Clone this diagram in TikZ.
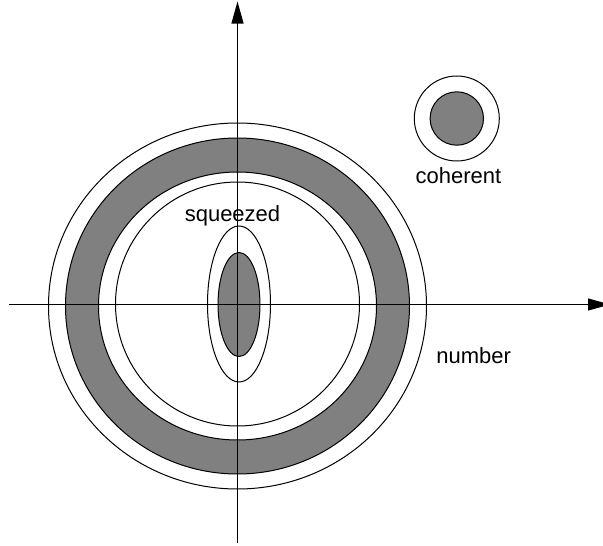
\documentclass[tikz,border=0pt]{standalone}
\usepackage{fontspec}
\setmainfont{Liberation Sans}
\usetikzlibrary{arrows.meta}

\tikzset{
  ring/.style={draw=black, line width=1pt},
  shade/.style={fill=gray, draw=black, line width=1pt, even odd rule},
  axis/.style={line width=1.1pt, -{Triangle[length=22pt, width=12pt]}},
  lbl/.style={font=\fontsize{22}{26}\selectfont, anchor=base, inner sep=0pt}
}

\begin{document}
\begin{tikzpicture}[x=1pt, y=-1pt]
    \useasboundingbox (0,0) rectangle (603,546);
    % number state: thermal ring
    \draw[ring] (237.5,306) ellipse [x radius=189pt, y radius=183pt];
    \path[shade] (237.5,306) ellipse [x radius=172pt, y radius=168pt]
                 (237.5,306) ellipse [x radius=139pt, y radius=134pt];
    \draw[ring] (237.5,304) ellipse [x radius=122pt, y radius=122pt];
    % squeezed state
    \draw[ring] (239,304) ellipse [x radius=31.5pt, y radius=78pt];
    \path[shade] (239,304.5) ellipse [x radius=21pt, y radius=52pt];
    % coherent state
    \draw[ring] (456.8,118.5) circle [radius=42.5pt];
    \path[shade] (456.8,118.5) circle [radius=26.7pt];
    % axes
    \coordinate (xl) at (9,304.5);
    \coordinate (xr) at (610,304.5);
    \coordinate (yb) at (237.5,543);
    \coordinate (yt) at (237.5,1.5);
    \draw[axis] (xl) -- (xr);
    \draw[axis] (yb) -- (yt);
    % labels
    \node[lbl] (squeezed) at (232.5,221) {squeezed};
    \node[lbl] (coherent) at (458.5,183.3) {coherent};
    \node[lbl] (number) at (473.7,363.3) {number};
\end{tikzpicture}
\end{document}
